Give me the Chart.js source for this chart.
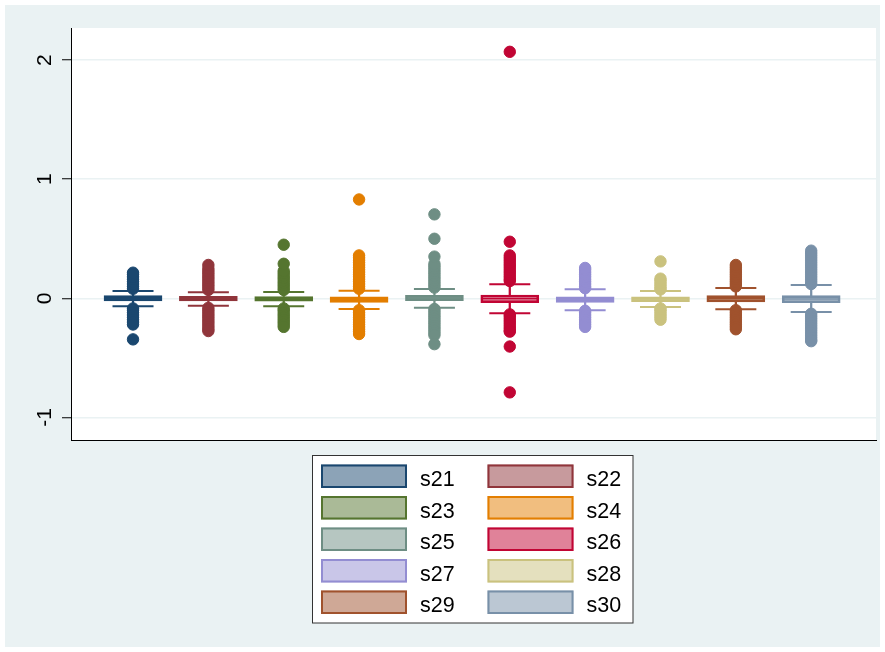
<!DOCTYPE html>
<html>
<head>
<meta charset="utf-8">
<script src="https://cdn.jsdelivr.net/npm/chart.js@4.4.1/dist/chart.umd.min.js"></script>
<style>
  html, body { margin: 0; padding: 0; background: #ffffff; }
  #wrap { width: 885px; height: 652px; position: relative; }
  canvas { display: block; }
</style>
</head>
<body>
<div id="wrap"><canvas id="chart" width="885" height="652"></canvas></div>
<script>
// Box plot summaries for s21..s30
const categories = ['s21', 's22', 's23', 's24', 's25', 's26', 's27', 's28', 's29', 's30'];
const q1 = [-0.023, -0.022, -0.025, -0.034, -0.020, -0.037, -0.034, -0.028, -0.031, -0.037];
const median = [0.000, -0.002, -0.003, -0.008, 0.003, -0.003, -0.010, -0.006, -0.004, -0.006];
const q3 = [0.022, 0.017, 0.015, 0.013, 0.025, 0.028, 0.013, 0.013, 0.022, 0.022];
const lowerAdjacent = [-0.067, -0.062, -0.067, -0.090, -0.079, -0.126, -0.100, -0.073, -0.092, -0.115];
const upperAdjacent = [0.061, 0.050, 0.053, 0.064, 0.078, 0.118, 0.076, 0.061, 0.087, 0.112];

// Outside values per variable
const out21 = [0.08, 0.10, 0.12, 0.14, 0.16, 0.18, 0.20, 0.215, -0.085, -0.10, -0.12, -0.14, -0.16, -0.18, -0.20, -0.22, -0.345];
const out22 = [0.07, 0.09, 0.11, 0.13, 0.15, 0.17, 0.19, 0.21, 0.23, 0.25, 0.28, -0.08, -0.10, -0.12, -0.14, -0.16, -0.18, -0.20, -0.22, -0.24, -0.26, -0.275];
const out23 = [0.07, 0.09, 0.11, 0.13, 0.15, 0.17, 0.19, 0.21, 0.23, 0.29, 0.45, -0.085, -0.10, -0.12, -0.14, -0.16, -0.18, -0.20, -0.22, -0.24];
const out24 = [0.08, 0.10, 0.12, 0.14, 0.16, 0.18, 0.20, 0.22, 0.24, 0.26, 0.28, 0.30, 0.32, 0.34, 0.36, 0.83, -0.10, -0.12, -0.14, -0.16, -0.18, -0.20, -0.22, -0.24, -0.26, -0.28, -0.30];
const out25 = [0.09, 0.11, 0.13, 0.15, 0.17, 0.19, 0.21, 0.23, 0.25, 0.27, 0.29, 0.35, 0.50, 0.705, -0.09, -0.11, -0.13, -0.15, -0.17, -0.19, -0.21, -0.23, -0.25, -0.27, -0.29, -0.31, -0.385];
const out26 = [0.145, 0.16, 0.18, 0.20, 0.22, 0.24, 0.26, 0.28, 0.30, 0.32, 0.34, 0.36, 0.475, 2.07, -0.135, -0.15, -0.17, -0.19, -0.21, -0.23, -0.25, -0.27, -0.28, -0.405, -0.79];
const out27 = [0.085, 0.10, 0.12, 0.14, 0.16, 0.18, 0.20, 0.22, 0.24, 0.255, -0.105, -0.12, -0.14, -0.16, -0.18, -0.20, -0.22, -0.24];
const out28 = [0.075, 0.09, 0.11, 0.13, 0.15, 0.165, 0.31, -0.085, -0.10, -0.12, -0.14, -0.16, -0.18];
const out29 = [0.10, 0.12, 0.14, 0.16, 0.18, 0.20, 0.22, 0.24, 0.26, 0.28, -0.10, -0.12, -0.14, -0.16, -0.18, -0.20, -0.22, -0.24, -0.26];
const out30 = [0.12, 0.14, 0.16, 0.18, 0.20, 0.22, 0.24, 0.26, 0.28, 0.30, 0.32, 0.34, 0.36, 0.38, 0.40, -0.13, -0.15, -0.17, -0.19, -0.21, -0.23, -0.25, -0.27, -0.29, -0.31, -0.33, -0.35, -0.36];
const outsideValues = [out21, out22, out23, out24, out25, out26, out27, out28, out29, out30];

const yTicks = [-1, 0, 1, 2];

// s2color palette
const lineColors = ['#1a476f', '#90353b', '#55752f', '#e37e00', '#6e8e84',
                    '#c10534', '#938dd2', '#cac27e', '#a0522d', '#7890a8'];

function tint(hex, a) {
  const n = parseInt(hex.slice(1), 16);
  return `rgba(${(n >> 16) & 255},${(n >> 8) & 255},${n & 255},${a})`;
}
const fillColors = lineColors.map(c => tint(c, 0.5));
const xPos = categories.map((_, i) => i + 1);

const FONT = '"Liberation Sans", Arial, Helvetica, sans-serif';

const datasets = [];
// whiskers
datasets.push({
  type: 'bar', label: 'upper whisker', grouped: false, order: 9,
  data: xPos.map((x, i) => ({ x, y: [q3[i], upperAdjacent[i]] })),
  backgroundColor: lineColors, borderWidth: 0, barThickness: 1.6
});
datasets.push({
  type: 'bar', label: 'lower whisker', grouped: false, order: 9,
  data: xPos.map((x, i) => ({ x, y: [lowerAdjacent[i], q1[i]] })),
  backgroundColor: lineColors, borderWidth: 0, barThickness: 1.6
});
// boxes
datasets.push({
  type: 'bar', label: 'box', grouped: false, order: 8,
  data: xPos.map((x, i) => ({ x, y: [q1[i], q3[i]] })),
  backgroundColor: fillColors, borderColor: lineColors, borderWidth: 2,
  borderSkipped: false, barThickness: 58
});
// medians
datasets.push({
  type: 'scatter', label: 'median', order: 7,
  data: xPos.map((x, i) => ({ x, y: median[i] })),
  pointStyle: 'line', pointRadius: 28, pointBorderWidth: 1.4,
  pointBorderColor: lineColors, pointBackgroundColor: lineColors
});
// caps
datasets.push({
  type: 'scatter', label: 'upper cap', order: 6,
  data: xPos.map((x, i) => ({ x, y: upperAdjacent[i] })),
  pointStyle: 'line', pointRadius: 20.5, pointBorderWidth: 2,
  pointBorderColor: lineColors
});
datasets.push({
  type: 'scatter', label: 'lower cap', order: 6,
  data: xPos.map((x, i) => ({ x, y: lowerAdjacent[i] })),
  pointStyle: 'line', pointRadius: 20.5, pointBorderWidth: 2,
  pointBorderColor: lineColors
});
// outside values
outsideValues.forEach((vals, i) => {
  datasets.push({
    type: 'scatter', label: categories[i], order: 1,
    data: vals.map(v => ({ x: xPos[i], y: v })),
    pointRadius: 5.7, pointBorderWidth: 1,
    pointBackgroundColor: lineColors[i], pointBorderColor: lineColors[i]
  });
});

// graph region and plot region backgrounds
const backgroundPlugin = {
  id: 'regions',
  beforeDraw(chart) {
    const { ctx, chartArea: a, width, height } = chart;
    ctx.save();
    ctx.fillStyle = '#ffffff';
    ctx.fillRect(0, 0, width, height);
    ctx.fillStyle = '#eaf2f3';
    ctx.fillRect(5, 5, width - 10, height - 10);
    ctx.fillStyle = '#ffffff';
    ctx.fillRect(a.left, a.top, a.right - a.left, a.bottom - a.top);
    ctx.restore();
  }
};

// vertical tick labels on the y axis
const yLabelPlugin = {
  id: 'yLabels',
  afterDraw(chart) {
    const scale = chart.scales.y;
    const ctx = chart.ctx;
    ctx.save();
    ctx.fillStyle = '#000000';
    ctx.font = `21px ${FONT}`;
    ctx.textAlign = 'center';
    ctx.textBaseline = 'alphabetic';
    scale.ticks.forEach(t => {
      const y = scale.getPixelForValue(t.value);
      ctx.save();
      ctx.translate(50.5, y);
      ctx.rotate(-Math.PI / 2);
      ctx.fillText(String(t.value), 0, 0);
      ctx.restore();
    });
    ctx.restore();
  }
};

// two-column key below the plot
const keyPlugin = {
  id: 'boxKey',
  afterDraw(chart) {
    const { ctx, chartArea: a } = chart;
    const cx = (a.left + a.right) / 2;
    const w = 320.5, h = 167.5;
    const left = cx - 161, top = a.bottom + 15.5;
    ctx.save();
    ctx.fillStyle = '#ffffff';
    ctx.fillRect(left, top, w, h);
    ctx.strokeStyle = '#333333';
    ctx.lineWidth = 1;
    ctx.strokeRect(left, top, w, h);
    ctx.font = `21.5px ${FONT}`;
    ctx.textAlign = 'left';
    ctx.textBaseline = 'alphabetic';
    categories.forEach((name, i) => {
      const col = i % 2, row = Math.floor(i / 2);
      const sx = left + 8.5 + col * 166.5;
      const sy = top + 9 + row * 31.5;
      ctx.fillStyle = fillColors[i];
      ctx.fillRect(sx, sy, 86, 23.5);
      ctx.strokeStyle = lineColors[i];
      ctx.lineWidth = 2;
      ctx.strokeRect(sx + 1, sy + 1, 84, 21.5);
      ctx.fillStyle = '#000000';
      ctx.fillText(name, sx + 99, sy + 21.5);
    });
    ctx.restore();
  }
};

new Chart(document.getElementById('chart'), {
  type: 'bar',
  data: { datasets },
  plugins: [backgroundPlugin, yLabelPlugin, keyPlugin],
  options: {
    responsive: false,
    animation: false,
    events: [],
    devicePixelRatio: 1,
    layout: { autoPadding: false, padding: { left: 0, top: 28, right: 9, bottom: 212 } },
    plugins: { legend: { display: false }, tooltip: { enabled: false } },
    scales: {
      x: {
        type: 'linear', min: 0.177, max: 10.86, offset: false,
        grid: { display: false, offset: false, drawTicks: false },
        ticks: { display: false },
        border: { display: true, color: '#000000', width: 1 },
        afterFit(s) { s.height = 0; }
      },
      y: {
        type: 'linear', min: -1.19, max: 2.27,
        afterBuildTicks(s) { s.ticks = yTicks.map(v => ({ value: v })); },
        grid: { color: '#eaf2f3', lineWidth: 1.5, tickColor: '#000000', tickLength: 9, tickWidth: 1 },
        border: { display: true, color: '#000000', width: 1 },
        ticks: { color: 'rgba(0,0,0,0)', font: { size: 21, family: FONT }, padding: 0 },
        afterFit(s) { s.width = 71; }
      }
    }
  }
});
</script>
</body>
</html>
